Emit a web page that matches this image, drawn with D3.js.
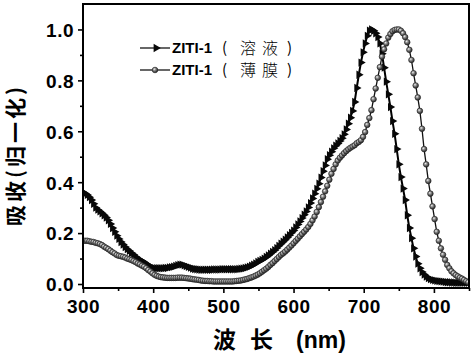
<!DOCTYPE html>
<html><head><meta charset="utf-8">
<script src="https://cdn.jsdelivr.net/npm/d3@7"></script>
<style>body{margin:0;background:#fff}svg{display:block}</style>
</head><body><svg id="c" width="474" height="356"></svg>
<script>
// wavelength grid (nm): 300, 303, ... 849
const wavelengths = d3.range(300, 850, 3);
// 溶液 (solution) normalised absorbance, rows of 30 nm
const solution = [
0.360,0.356,0.350,0.341,0.330,0.315,0.300,0.292,0.285,0.278,
0.270,0.261,0.250,0.236,0.220,0.205,0.190,0.177,0.165,0.155,
0.145,0.137,0.130,0.122,0.115,0.107,0.100,0.095,0.090,0.085,
0.080,0.074,0.068,0.064,0.062,0.062,0.062,0.062,0.062,0.063,
0.063,0.065,0.066,0.068,0.071,0.074,0.076,0.076,0.073,0.070,
0.067,0.064,0.061,0.059,0.058,0.057,0.056,0.056,0.056,0.056,
0.056,0.056,0.057,0.057,0.057,0.057,0.058,0.058,0.058,0.058,
0.058,0.058,0.058,0.058,0.059,0.060,0.061,0.063,0.065,0.068,
0.072,0.076,0.081,0.087,0.091,0.095,0.100,0.106,0.112,0.119,
0.126,0.133,0.141,0.150,0.158,0.166,0.174,0.183,0.192,0.201,
0.210,0.222,0.234,0.246,0.259,0.272,0.285,0.301,0.318,0.336,
0.355,0.374,0.394,0.418,0.443,0.466,0.490,0.506,0.520,0.533,
0.543,0.552,0.562,0.573,0.588,0.607,0.630,0.653,0.680,0.715,
0.770,0.822,0.870,0.910,0.945,0.975,0.995,1.000,0.995,0.985,
0.970,0.945,0.905,0.850,0.795,0.745,0.695,0.640,0.590,0.530,
0.470,0.420,0.375,0.330,0.270,0.220,0.180,0.140,0.108,0.080,
0.062,0.047,0.037,0.029,0.023,0.019,0.016,0.014,0.012,0.011,
0.010,0.009,0.008,0.007,0.007,0.006,0.006,0.005,0.005,0.005,
0.005,0.005,0.005,0.005
];
// 薄膜 (film) normalised absorbance
const film = [
0.170,0.170,0.170,0.168,0.166,0.165,0.162,0.160,0.157,0.153,
0.147,0.142,0.137,0.131,0.125,0.120,0.114,0.111,0.109,0.107,
0.104,0.100,0.097,0.094,0.090,0.086,0.081,0.077,0.072,0.068,
0.062,0.055,0.049,0.042,0.036,0.032,0.029,0.027,0.026,0.025,
0.024,0.024,0.024,0.024,0.024,0.025,0.025,0.025,0.024,0.023,
0.022,0.021,0.019,0.018,0.017,0.016,0.014,0.013,0.012,0.012,
0.011,0.011,0.010,0.010,0.010,0.010,0.010,0.010,0.010,0.010,
0.010,0.010,0.011,0.012,0.013,0.014,0.016,0.018,0.020,0.023,
0.026,0.029,0.033,0.037,0.042,0.048,0.054,0.060,0.067,0.075,
0.082,0.090,0.098,0.106,0.114,0.120,0.127,0.135,0.143,0.151,
0.160,0.169,0.178,0.187,0.196,0.205,0.214,0.224,0.236,0.250,
0.265,0.283,0.302,0.322,0.343,0.364,0.386,0.410,0.433,0.452,
0.470,0.485,0.496,0.505,0.514,0.522,0.529,0.535,0.540,0.545,
0.553,0.558,0.565,0.578,0.597,0.625,0.652,0.683,0.726,0.768,
0.810,0.852,0.893,0.922,0.945,0.968,0.982,0.993,0.998,1.000,
1.000,0.995,0.985,0.970,0.950,0.920,0.880,0.828,0.780,0.733,
0.680,0.610,0.530,0.470,0.405,0.355,0.305,0.255,0.205,0.170,
0.140,0.115,0.095,0.075,0.062,0.050,0.042,0.035,0.030,0.025,
0.021,0.016,0.011,0.007
];
const xTicks = [300, 400, 500, 600, 700, 800];
const xMinorTicks = [350, 450, 550, 650, 750, 850];
const yTicks = [0.0, 0.2, 0.4, 0.6, 0.8, 1.0];
const yMinorTicks = [0.1, 0.3, 0.5, 0.7, 0.9];
const seriesIds = ["ZITI-1", "ZITI-1"];
const seriesStates = ["溶液", "薄膜"];
const xTitleParts = ["波", "长", "(nm)"];
const yTitle = "吸收(归一化)";

const svg = d3.select("#c");
const L = 83, R = 469, T = 4, B = 288;
const x = d3.scaleLinear().domain([300, 850]).range([L, R]);
const y = d3.scaleLinear().domain([-0.0157, 1.1]).range([B, T]);

const defs = svg.append("defs");
const g = defs.append("radialGradient").attr("id", "ball").attr("cx", "38%").attr("cy", "35%").attr("r", "65%");
g.append("stop").attr("offset", "0%").attr("stop-color", "#f0f0f0");
g.append("stop").attr("offset", "40%").attr("stop-color", "#8a8a8a");
g.append("stop").attr("offset", "100%").attr("stop-color", "#242424");
defs.append("clipPath").attr("id", "clip").append("rect")
  .attr("x", L).attr("y", T).attr("width", R - L).attr("height", B - T);

const fontLatin = "'Liberation Sans', Arial, sans-serif";
const fontCJK = "'Noto Sans CJK SC', sans-serif";

// axes
const yAxis = svg.append("g").attr("transform", `translate(${L},0)`)
  .call(d3.axisLeft(y).tickValues(yTicks).tickSize(5).tickPadding(4).tickFormat(d3.format(".1f")));
const yMinor = svg.append("g").attr("transform", `translate(${L},0)`)
  .call(d3.axisLeft(y).tickValues(yMinorTicks).tickSize(3).tickFormat(""));
const xAxis = svg.append("g").attr("transform", `translate(0,${B})`)
  .call(d3.axisBottom(x).tickValues(xTicks).tickSize(5).tickPadding(5).tickFormat(d3.format("d")));
const xMinor = svg.append("g").attr("transform", `translate(0,${B})`)
  .call(d3.axisBottom(x).tickValues(xMinorTicks).tickSize(3).tickFormat(""));
[yAxis, yMinor, xAxis, xMinor].forEach(a => {
  a.select(".domain").remove();
  a.selectAll(".tick line").attr("stroke", "#000").attr("stroke-width", 1.6);
  a.selectAll("text").attr("fill", "#000").style("font-family", fontLatin)
   .style("font-weight", "bold").style("font-size", "19px").style("letter-spacing", "0.5px");
});
yAxis.selectAll("text").attr("dy", "0.36em");
xAxis.selectAll("text").attr("dy", "0.78em");

// data series
const solData = wavelengths.map((w, i) => ({w, v: solution[i]}));
const filmData = wavelengths.map((w, i) => ({w, v: film[i]}));
const line = d3.line().x(d => x(d.w)).y(d => y(d.v));
const plot = svg.append("g").attr("clip-path", "url(#clip)");

plot.append("path").datum(solData).attr("d", line).attr("fill", "none").attr("stroke", "#000").attr("stroke-width", 2);
const tri = d3.symbol().type(d3.symbolTriangle).size(30)();
plot.selectAll(".tri").data(solData).join("path").attr("class", "tri")
  .attr("d", tri).attr("fill", "#080808")
  .attr("transform", d => `translate(${x(d.w)},${y(d.v)}) rotate(90)`);

plot.append("path").datum(filmData).attr("d", line).attr("fill", "none").attr("stroke", "#111").attr("stroke-width", 1.3);
plot.selectAll(".ball").data(filmData).join("circle").attr("class", "ball")
  .attr("cx", d => x(d.w)).attr("cy", d => y(d.v)).attr("r", 2.8)
  .attr("fill", "url(#ball)").attr("stroke", "#2a2a2a").attr("stroke-width", 0.7);

// frame
svg.append("rect").attr("x", L).attr("y", T).attr("width", R - L).attr("height", B - T)
  .attr("fill", "none").attr("stroke", "#000").attr("stroke-width", 2);

// legend
const legY = [48, 70];
seriesIds.forEach((id, i) => {
  const gy = legY[i];
  const lg = svg.append("g");
  lg.append("line").attr("x1", 140).attr("x2", 170).attr("y1", gy).attr("y2", gy)
    .attr("stroke", "#000").attr("stroke-width", 1.2);
  if (i === 0) {
    lg.append("path").attr("d", tri).attr("fill", "#080808").attr("transform", `translate(156,${gy}) rotate(90)`);
  } else {
    lg.append("circle").attr("cx", 155).attr("cy", gy).attr("r", 2.8).attr("fill", "url(#ball)").attr("stroke", "#2a2a2a").attr("stroke-width", 0.7);
  }
  lg.append("text").attr("x", 172).attr("y", gy).attr("dy", "0.36em")
    .style("font-family", fontLatin).style("font-weight", "bold").style("font-size", "15px").text(id);
  lg.append("text").attr("x", 222).attr("y", gy).attr("dy", "0.36em")
    .style("font-family", fontCJK).style("font-size", "15px").text("(");
  seriesStates[i].split("").forEach((ch, k) => {
    lg.append("text").attr("x", 240 + k * 22).attr("y", gy).attr("dy", "0.36em")
      .style("font-family", fontCJK).style("font-size", "16px").style("font-weight", 300).text(ch);
  });
  lg.append("text").attr("x", 287).attr("y", gy).attr("dy", "0.36em")
    .style("font-family", fontCJK).style("font-size", "15px").text(")");
});

// axis titles
const xt = svg.append("text").attr("y", 348).attr("text-anchor", "start")
  .style("font-size", "23px").style("font-weight", "bold").attr("fill", "#000");
xt.append("tspan").attr("x", 213).style("font-family", fontCJK).text(xTitleParts[0]);
xt.append("tspan").attr("x", 250).style("font-family", fontCJK).text(xTitleParts[1]);
xt.append("tspan").attr("x", 296).style("font-family", fontLatin).text(xTitleParts[2]);

svg.append("text").attr("transform", "translate(23,155) rotate(-90)")
  .attr("text-anchor", "middle").style("font-family", fontCJK).style("font-weight", "bold")
  .style("font-size", "21px").style("letter-spacing", "3px").attr("fill", "#000").text(yTitle);
</script></body></html>
